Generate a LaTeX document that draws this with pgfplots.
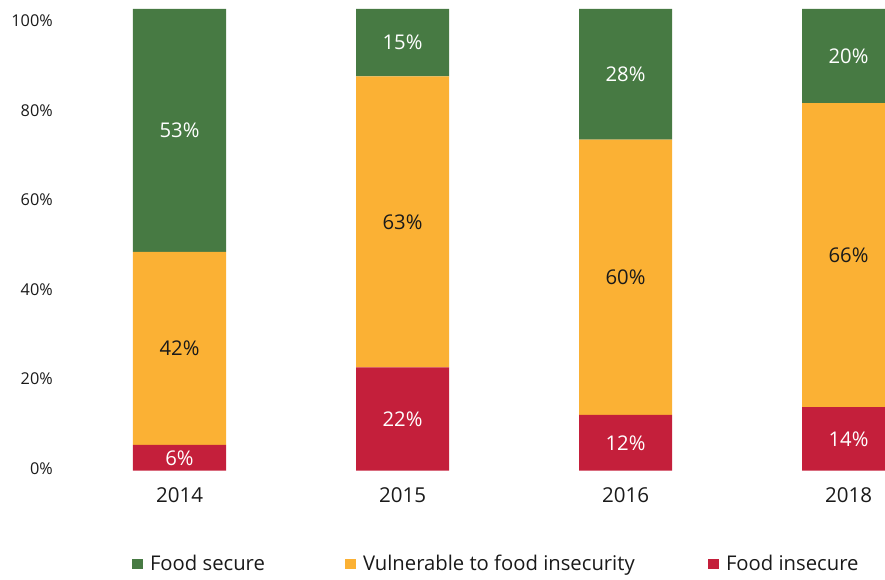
\documentclass[border=0pt]{standalone}
\usepackage{fontspec}
\setmainfont{Open Sans}
\usepackage{pgfplots}
\usepackage{pgfplotstable}
\pgfplotsset{compat=1.18}
\definecolor{cgreen}{RGB}{71,122,67}
\definecolor{corange}{RGB}{251,177,52}
\definecolor{cred}{RGB}{196,31,59}
\definecolor{ctext}{RGB}{26,26,26}
\pgfplotstableread{
x red orange green rl ol gl
0 5.6 41.8 52.6 6 42 53
1 22.4 63.0 14.6 22 63 15
2 12.1 59.6 28.3 12 60 28
3 13.8 65.8 20.4 14 66 20
}\data
\pgfplotsset{
  mylegend/.style={legend image code/.code={\fill[##1] (0pt,-3.9pt) rectangle (8.25pt,3.9pt);}},
  seglabel/.style={
    nodes near coords={\pgfmathprintnumber{\pgfplotspointmeta}\%},
    point meta=explicit,
    every node near coord/.append style={anchor=center, inner sep=0pt,
      font=\fontsize{15.2}{18}\selectfont},
  },
}
\begin{document}
\begin{tikzpicture}
\begin{axis}[
  at={(51pt,81.2pt)}, anchor=south west,
  width=612.75pt, height=346.3pt, scale only axis,
  ybar stacked, bar width=69.75pt,
  xmin=-0.5, xmax=3.1637, ymin=0, ymax=100,
  axis line style={draw=none}, major tick length=0pt,
  xtick={0,1,2,3}, xticklabels={2014,2015,2016,2018},
  ytick={0.48,19.87,39.27,58.66,78.05,97.44},
  yticklabels={0\%,20\%,40\%,60\%,80\%,100\%},
  /pgf/number format/assume math mode=true,
  yticklabel style={anchor=east, inner sep=0pt, xshift=-11.25pt,
    font=\fontsize{12.2}{14}\selectfont, text=ctext},
  xticklabel style={anchor=north, inner sep=0pt, yshift=-12.75pt,
    font=\fontsize{15.4}{18}\selectfont, text=ctext},
  reverse legend, legend columns=3,
  legend style={at={(0.07834,-0.2021)}, anchor=west, draw=none, fill=none,
    inner sep=0pt, outer sep=0pt,
    nodes={inner sep=0pt, font=\fontsize{15.2}{18}\selectfont, text=ctext},
    /tikz/every odd column/.style={column sep=5.25pt},
    /tikz/every even column/.style={column sep=0pt}},
]
\addplot[fill=cred, draw=none, mylegend, seglabel,
  every node near coord/.append style={text=white}]
  table[x=x, y=red, meta=rl] {\data};
\addlegendentry{Food insecure}
\addplot[fill=corange, draw=none, mylegend, seglabel,
  every node near coord/.append style={text=ctext}]
  table[x=x, y=orange, meta=ol] {\data};
\addlegendentry{\makebox[258.75pt][l]{Vulnerable to food insecurity}}
\addplot[fill=cgreen, draw=none, mylegend, seglabel,
  every node near coord/.append style={text=white}]
  table[x=x, y=green, meta=gl] {\data};
\addlegendentry{\makebox[146.25pt][l]{Food secure}}
\end{axis}
\pgfresetboundingbox
\path[use as bounding box] (0,0) rectangle (663.75pt,434.25pt);
\end{tikzpicture}
\end{document}
